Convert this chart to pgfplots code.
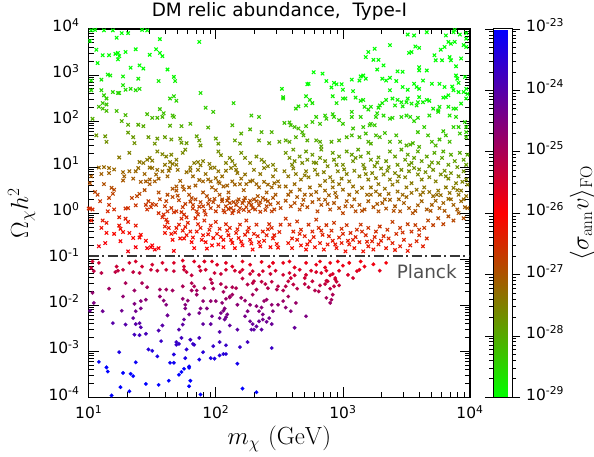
\documentclass[border=0pt]{standalone}
\usepackage[no-math]{fontspec}
\setmainfont{DejaVu Sans}
\usepackage{pgfplots}
\usepackage{pgfplotstable}
\pgfplotsset{compat=1.18}

% columns: lx = log10(m_chi/GeV), ly = log10(Omega h^2)
\pgfplotstableread{
lx ly
1.02 3.97
1.05 3.98
1.12 3.97
1.19 3.97
1.26 3.91
1.31 3.91
1.42 3.98
1.46 3.97
1.01 3.74
1.22 3.81
1.56 3.78
1.87 3.72
1.06 3.55
1.11 3.43
1.16 3.43
1.21 3.46
1.23 3.48
1.24 3.41
1.23 3.34
1.29 3.50
1.37 3.56
1.48 3.44
1.53 3.56
1.56 3.48
1.58 3.41
1.07 3.26
1.33 3.16
1.40 3.21
1.43 3.14
1.62 3.12
1.02 2.88
1.10 2.90
1.15 3.01
1.17 2.99
1.27 2.97
1.39 2.92
1.55 2.87
1.67 2.96
1.68 2.87
1.02 2.67
1.10 2.67
1.19 2.63
1.23 2.61
1.24 2.61
1.27 2.78
1.29 2.68
1.33 2.70
1.37 2.67
1.40 2.70
1.88 2.61
1.12 2.56
1.14 2.49
1.11 2.39
1.14 2.36
1.08 2.31
1.11 2.27
1.14 2.22
1.56 2.26
1.59 2.17
1.64 2.49
1.67 2.54
1.69 2.44
1.92 2.29
1.98 2.20
2.14 2.39
1.03 2.05
1.22 2.22
1.29 2.13
1.46 2.15
1.50 2.07
1.54 2.07
1.58 2.09
1.66 2.12
1.67 2.09
1.26 2.00
1.31 1.92
1.39 1.92
1.43 1.89
1.64 1.90
1.73 1.89
1.80 1.94
2.13 1.91
2.28 2.12
1.06 1.69
1.13 1.67
1.14 1.55
1.31 1.75
1.35 1.65
1.36 1.52
1.47 1.65
1.52 1.51
1.54 1.62
1.60 1.65
1.65 1.60
1.72 1.62
1.73 1.53
1.77 1.52
1.85 1.67
1.87 1.58
1.88 1.47
2.00 1.62
2.02 1.51
1.94 1.86
2.15 1.58
2.19 1.51
2.20 1.73
2.27 1.82
2.34 1.58
2.36 1.76
2.42 1.52
2.44 1.76
2.50 1.55
3.51 3.88
3.56 3.86
3.66 3.93
3.81 3.86
3.87 3.93
3.88 3.98
3.92 3.88
3.97 3.91
3.83 3.72
3.85 3.68
3.88 3.72
3.95 3.65
3.97 3.79
3.97 3.61
3.37 3.65
3.25 3.57
3.20 3.50
3.18 3.39
3.24 3.33
3.28 3.33
3.52 3.48
3.54 3.50
3.57 3.62
3.60 3.59
3.77 3.55
3.80 3.61
3.72 3.43
3.73 3.32
3.78 3.32
3.84 3.39
3.85 3.32
3.93 3.36
3.89 3.19
3.60 3.17
3.60 3.10
3.66 3.10
3.43 3.08
3.47 3.07
3.32 3.21
3.27 3.12
3.16 2.99
3.14 2.97
3.13 2.88
3.18 2.92
2.77 3.06
2.84 3.03
2.87 2.87
2.93 2.83
2.95 2.80
2.99 2.80
2.91 2.73
3.00 2.68
3.07 2.90
3.31 2.92
3.34 2.88
3.37 2.94
3.42 2.87
3.47 2.74
3.51 2.68
3.56 2.81
3.58 2.74
3.60 2.70
3.63 2.88
3.70 2.81
3.76 2.81
3.80 2.74
3.86 2.75
3.89 2.99
3.90 2.92
3.91 2.83
3.96 2.96
3.97 2.70
3.87 2.67
3.91 2.63
3.95 2.63
2.52 2.70
2.53 2.52
2.53 2.49
2.72 2.80
2.73 2.81
2.71 2.54
2.74 2.46
2.76 2.39
2.71 2.34
2.65 2.32
2.63 2.27
2.92 2.54
2.95 2.39
3.00 2.49
3.02 2.49
3.08 2.65
3.10 2.51
3.14 2.44
3.16 2.46
3.17 2.31
3.22 2.31
3.20 2.25
3.28 2.29
3.29 2.34
3.31 2.39
3.34 2.46
3.37 2.67
3.39 2.49
3.41 2.34
3.43 2.46
3.46 2.41
3.47 2.32
3.50 2.41
3.51 2.49
3.54 2.38
3.58 2.34
3.59 2.41
3.60 2.52
3.63 2.41
3.66 2.46
3.68 2.44
3.71 2.27
3.75 2.23
3.76 2.31
3.79 2.51
3.81 2.52
3.83 2.56
3.83 2.31
3.87 2.27
3.89 2.27
3.93 2.38
3.97 2.49
3.98 2.59
2.34 2.09
2.54 1.96
2.58 1.97
2.59 1.91
2.62 1.87
2.65 1.84
2.68 1.76
2.71 1.89
2.76 1.98
2.79 2.09
2.82 1.94
2.86 2.12
2.87 2.05
2.92 2.15
2.93 2.09
2.97 2.02
3.00 1.94
3.07 2.20
3.07 2.09
3.14 2.09
3.21 1.91
3.22 1.94
3.26 2.09
3.27 2.17
3.32 2.12
3.37 2.05
3.39 2.07
3.46 2.09
3.50 2.12
3.53 2.09
3.56 2.00
3.59 2.07
3.68 2.12
3.75 2.20
3.84 2.12
3.89 2.09
3.87 1.87
3.91 1.87
3.96 1.98
3.97 1.87
2.55 1.58
2.58 1.55
2.63 1.65
2.69 1.69
2.72 1.58
2.79 1.58
2.82 1.55
2.83 1.45
2.91 1.55
2.97 1.58
3.03 1.65
3.07 1.69
3.08 1.84
3.13 1.65
3.16 1.87
3.18 1.73
3.20 1.55
3.22 1.51
3.25 1.91
3.26 1.69
3.29 1.65
3.33 1.74
3.37 1.55
3.42 1.69
3.45 1.55
3.50 1.47
3.53 1.49
3.55 1.52
3.59 1.76
3.60 1.44
3.64 1.87
3.67 1.69
3.70 1.55
3.73 1.47
3.76 1.60
3.79 1.78
3.81 1.69
3.84 1.55
3.92 1.73
3.97 1.76
3.97 1.65
1.24 1.21
1.32 1.31
1.40 1.11
1.43 1.09
1.46 1.16
1.48 1.20
1.50 1.14
1.54 1.34
1.58 1.28
1.61 1.23
1.64 1.11
1.65 1.27
1.60 1.05
1.69 1.16
1.69 1.05
1.66 1.07
1.74 1.31
1.76 1.38
1.83 1.09
1.86 1.11
1.90 1.13
1.95 1.07
1.96 0.98
2.02 1.34
2.04 1.26
2.08 1.09
2.11 1.20
2.13 1.13
2.15 1.04
2.20 1.31
2.23 1.20
2.27 1.09
2.32 1.23
2.36 1.16
2.38 1.11
1.08 0.99
1.16 0.98
1.16 0.87
1.10 0.85
1.27 0.89
1.32 0.91
1.37 0.91
1.39 0.98
1.48 0.99
1.50 0.98
1.54 0.94
1.58 0.91
1.63 0.92
1.64 0.98
1.70 0.94
1.77 0.89
1.80 0.92
1.80 0.99
1.88 1.04
1.86 0.94
1.99 0.99
2.02 0.91
2.08 0.92
2.12 0.98
2.16 0.94
2.17 0.87
2.23 0.84
2.30 0.94
2.38 0.98
2.41 1.02
2.45 1.05
2.47 0.94
1.02 0.80
1.01 0.65
1.12 0.63
1.18 0.55
1.20 0.51
1.19 0.42
1.27 0.71
1.34 0.33
1.38 0.37
1.40 0.42
1.41 0.68
1.45 0.69
1.48 0.73
1.52 0.69
1.53 0.84
1.48 0.63
1.66 0.53
1.69 0.49
1.69 0.58
1.74 0.58
1.75 0.51
1.79 0.56
1.84 0.60
1.87 0.72
1.90 0.69
1.94 0.73
1.96 0.69
1.97 0.56
2.00 0.76
2.02 0.68
2.03 0.65
2.06 0.58
2.09 0.60
2.13 0.69
2.15 0.62
2.19 0.63
2.24 0.63
2.27 0.69
2.29 0.71
2.32 0.63
2.34 0.56
2.38 0.68
2.41 0.62
2.44 0.56
2.46 0.65
2.49 0.69
2.50 0.58
1.05 0.46
1.07 0.40
1.09 0.26
1.16 0.33
1.16 0.18
1.01 0.10
1.03 0.08
1.15 0.04
1.20 0.08
1.24 -0.09
1.29 0.10
1.31 0.11
1.37 0.17
1.45 0.18
1.47 0.26
1.46 0.08
1.49 0.13
1.50 0.20
1.53 0.18
1.55 0.00
1.59 -0.03
1.61 0.26
1.62 0.04
1.65 0.11
1.67 0.02
1.69 0.04
1.73 0.02
1.74 0.13
1.75 -0.03
1.77 -0.09
1.79 0.40
1.81 0.33
1.82 0.18
1.82 0.10
1.85 0.04
1.86 -0.03
1.88 0.24
1.90 0.15
1.91 0.05
1.92 -0.03
1.94 0.20
1.95 0.29
1.96 0.11
1.98 0.24
2.00 0.04
2.02 0.15
2.03 0.40
2.05 0.26
2.07 0.02
2.08 0.15
2.10 0.33
2.11 0.22
2.12 0.11
2.13 0.00
2.16 0.18
2.17 0.26
2.19 0.11
2.21 0.22
2.23 0.33
2.24 0.13
2.27 0.27
2.28 0.18
2.29 0.11
2.32 0.26
2.33 0.37
2.34 0.17
2.37 0.33
2.40 0.15
2.41 0.26
2.44 0.04
2.45 0.33
2.47 0.40
2.49 0.22
2.51 0.11
1.02 -0.16
1.11 -0.16
1.10 -0.32
1.14 -0.21
1.14 -0.43
1.20 -0.45
1.24 -0.27
1.25 -0.34
1.29 -0.12
1.31 -0.19
1.27 -0.41
1.32 -0.43
1.37 -0.27
1.35 -0.54
1.40 -0.53
1.41 -0.47
1.45 -0.60
1.49 -0.74
1.52 -0.79
1.58 -0.09
1.61 -0.14
1.60 -0.29
1.63 -0.32
1.65 -0.45
1.66 -0.58
1.69 -0.32
1.71 -0.25
1.73 -0.12
1.74 -0.38
1.77 -0.48
1.78 -0.21
1.80 -0.40
1.81 -0.63
1.82 -0.53
1.83 -0.76
1.84 -0.11
1.86 -0.24
1.88 -0.32
1.90 -0.48
1.91 -0.16
1.92 -0.63
1.93 -0.77
1.95 -0.36
1.96 -0.27
1.98 -0.54
2.00 -0.19
2.01 -0.45
2.02 -0.68
2.03 -0.34
2.06 -0.58
2.06 -0.74
2.08 -0.24
2.10 -0.48
2.11 -0.32
2.13 -0.65
2.15 -0.76
2.16 -0.43
2.18 -0.54
2.19 -0.25
2.21 -0.70
2.23 -0.47
2.24 -0.16
2.26 -0.32
2.27 -0.58
2.29 -0.79
2.30 -0.45
2.32 -0.25
2.34 -0.63
2.35 -0.72
2.37 -0.40
2.40 -0.48
2.42 -0.24
2.43 -0.74
2.44 -0.32
2.45 -0.55
2.48 -0.67
2.50 -0.41
2.51 -0.25
1.00 0.10
1.08 -0.72
1.13 -0.65
1.25 -0.61
1.31 -0.83
1.37 -0.74
1.46 -0.76
1.50 -0.70
1.55 -0.76
1.67 -0.82
1.75 -0.55
1.60 -0.43
2.55 1.31
2.58 1.20
2.61 1.38
2.62 1.13
2.66 1.23
2.68 1.09
2.71 1.34
2.72 1.16
2.76 1.27
2.79 1.09
2.82 1.20
2.83 1.38
2.86 1.13
2.88 1.02
2.92 1.31
2.93 1.16
2.97 1.23
3.00 1.05
3.03 1.34
3.07 1.27
3.08 1.13
3.12 1.38
3.14 1.23
3.16 1.05
3.20 1.31
3.22 1.16
3.25 1.02
3.28 1.21
3.34 1.13
3.37 1.34
3.41 1.23
3.43 1.05
3.46 1.38
3.49 1.16
3.51 1.27
3.54 1.09
3.56 1.20
3.59 1.34
3.62 1.13
3.66 1.23
3.68 1.02
3.72 1.31
3.75 1.09
3.78 1.20
3.79 1.34
3.83 1.05
3.85 1.27
3.88 1.13
3.92 1.31
3.95 1.16
3.97 1.05
3.98 1.27
2.54 0.91
2.57 0.80
2.61 0.97
2.63 0.85
2.67 0.73
2.71 0.91
2.73 0.78
2.78 0.94
2.80 0.84
2.85 0.89
2.90 0.78
2.92 0.69
2.96 0.91
2.99 0.75
3.03 0.85
3.05 0.69
3.09 0.92
3.13 0.80
3.17 0.97
3.20 0.73
3.23 0.87
3.26 0.76
3.28 0.63
3.30 0.97
3.32 0.84
3.35 0.92
3.37 0.73
3.41 0.87
3.43 0.69
3.46 0.94
3.49 0.78
3.52 0.91
3.54 0.65
3.56 0.98
3.59 0.84
3.62 0.73
3.65 0.89
3.68 0.78
3.71 0.94
3.73 0.69
3.77 0.84
3.80 0.92
3.83 0.75
3.85 0.87
3.89 0.65
3.91 0.80
3.95 0.91
3.97 0.73
3.98 0.62
3.94 0.68
2.55 0.58
2.59 0.47
2.62 0.63
2.66 0.51
2.70 0.40
2.74 0.56
2.79 0.46
2.82 0.60
2.86 0.49
2.89 0.39
2.92 0.56
2.94 0.44
2.97 0.63
3.00 0.51
3.05 0.40
3.08 0.58
3.11 0.46
3.15 0.55
3.19 0.40
3.22 0.56
3.26 0.47
3.29 0.40
3.33 0.53
3.36 0.42
3.39 0.62
3.43 0.47
3.47 0.40
3.50 0.56
3.54 0.44
3.58 0.51
3.61 0.40
3.64 0.56
3.68 0.46
3.71 0.37
3.75 0.49
3.77 0.39
3.81 0.56
3.84 0.44
3.87 0.55
3.91 0.40
3.93 0.49
3.97 0.37
3.98 0.11
2.55 0.27
2.59 0.15
2.62 0.22
2.66 0.08
2.69 0.29
2.72 0.13
2.76 0.24
2.80 0.04
2.83 0.18
2.86 0.29
2.90 0.08
2.93 0.22
2.97 0.11
3.00 0.00
3.03 0.26
3.07 0.15
3.10 0.04
3.13 0.18
3.17 0.08
3.20 0.26
3.24 0.13
3.28 0.04
3.31 0.22
3.34 0.10
3.37 0.29
3.41 0.15
3.45 0.04
3.48 0.22
3.52 0.11
3.55 0.00
3.59 0.17
3.62 0.26
3.66 0.08
3.70 0.18
3.73 0.27
3.76 0.11
3.79 0.22
3.83 0.31
3.87 0.18
3.90 0.08
3.93 0.26
3.96 0.13
2.55 -0.12
2.58 -0.25
2.61 -0.40
2.64 -0.18
2.67 -0.36
2.70 -0.50
2.73 -0.25
2.76 -0.40
2.79 -0.14
2.81 -0.32
2.84 -0.47
2.87 -0.26
2.91 -0.38
2.93 -0.21
2.97 -0.53
2.99 -0.34
3.03 -0.26
3.06 -0.43
3.08 -0.58
3.11 -0.36
3.14 -0.25
3.18 -0.48
3.20 -0.32
3.23 -0.61
3.26 -0.40
3.29 -0.29
3.32 -0.50
3.35 -0.36
3.39 -0.19
3.42 -0.45
3.45 -0.32
3.48 -0.58
3.51 -0.24
3.54 -0.40
3.57 -0.26
3.60 -0.48
3.64 -0.32
3.67 -0.16
3.71 -0.26
3.75 -0.11
3.79 -0.24
3.83 -0.07
3.87 -0.16
3.91 0.00
3.95 -0.11
2.57 -0.65
2.60 -0.76
2.64 -0.58
2.67 -0.70
2.71 -0.79
2.74 -0.61
2.78 -0.74
2.82 -0.65
2.85 -0.79
2.88 -0.68
2.92 -0.60
2.95 -0.76
2.99 -0.65
3.02 -0.83
3.05 -0.68
3.09 -0.76
3.13 -0.63
3.16 -0.83
3.20 -0.72
3.24 -0.79
3.28 -0.68
3.34 -0.76
3.39 -0.65
3.45 -0.72
3.51 -0.82
3.58 -0.61
3.63 -0.72
2.05 0.30
2.09 0.27
2.14 0.24
2.18 0.30
2.22 0.27
2.26 0.22
2.30 0.30
2.35 0.24
2.39 0.29
2.43 0.19
2.06 0.06
2.10 0.09
2.14 0.06
2.18 0.03
2.22 0.07
2.26 0.04
2.31 0.08
2.35 0.03
2.39 0.07
2.46 0.08
1.80 0.25
1.84 0.30
1.87 0.14
1.93 0.37
1.99 0.31
1.76 0.20
1.71 0.28
1.66 0.35
1.60 0.15
1.56 0.30
1.62 -0.20
1.68 -0.42
1.72 -0.55
1.76 -0.30
1.85 -0.40
1.89 -0.58
1.94 -0.46
1.97 -0.70
2.04 -0.52
2.09 -0.38
2.12 -0.58
2.17 -0.35
2.20 -0.62
2.25 -0.40
2.28 -0.66
2.33 -0.50
2.38 -0.60
2.41 -0.35
2.46 -0.48
2.49 -0.75
2.60 -0.55
2.66 -0.45
2.72 -0.68
2.77 -0.52
2.83 -0.38
2.89 -0.50
2.94 -0.68
3.00 -0.45
3.04 -0.60
3.10 -0.52
3.15 -0.40
3.19 -0.62
3.25 -0.52
3.30 -0.60
3.36 -0.55
3.41 -0.80
3.47 -0.42
3.53 -0.70
3.60 -0.36
3.66 -0.55
2.57 0.40
2.64 0.35
2.68 0.18
2.75 0.40
2.81 0.30
2.88 0.20
2.95 0.35
3.02 0.15
3.09 0.30
3.15 0.05
3.22 0.40
3.27 0.20
3.33 0.30
3.40 0.05
3.44 0.30
3.50 0.35
3.57 0.05
3.63 0.45
3.69 0.05
3.74 0.40
3.80 0.05
3.85 0.30
3.90 0.50
3.95 0.30
2.60 1.05
2.70 0.82
2.77 1.10
2.86 0.70
2.95 1.05
3.01 0.95
3.10 1.20
3.18 0.85
3.27 1.10
3.36 1.00
3.44 0.80
3.52 1.05
3.60 0.95
3.70 1.10
3.81 0.80
3.90 1.00
1.12 1.00
1.20 0.95
1.28 0.80
1.35 0.75
1.44 0.85
1.55 0.75
1.62 0.80
1.72 0.70
1.82 0.80
1.92 0.85
2.05 0.80
2.20 0.75
2.35 0.85
2.45 0.80
1.44 0.50
1.55 0.45
1.62 0.40
1.70 0.38
1.90 0.45
2.00 0.50
2.10 0.45
2.22 0.50
2.40 0.45
}\crossdata

\pgfplotstableread{
lx ly
1.03 -1.05
1.02 -1.19
1.08 -1.08
1.22 -1.16
1.32 -1.08
1.37 -1.05
1.42 -1.16
1.50 -1.12
1.58 -1.08
1.67 -1.08
1.74 -1.03
1.75 -1.16
1.83 -1.05
1.87 -1.16
1.91 -1.05
1.97 -1.05
2.01 -1.12
2.08 -1.08
2.13 -1.16
2.21 -1.05
2.27 -1.12
2.36 -1.06
2.42 -1.16
2.45 -1.08
2.53 -1.08
2.58 -1.05
2.62 -1.18
2.71 -1.08
2.79 -1.12
2.82 -1.05
2.86 -1.18
2.90 -1.08
2.96 -1.05
3.00 -1.14
3.05 -1.08
3.14 -1.05
3.17 -1.16
3.24 -1.11
3.34 -1.08
1.04 -1.26
1.10 -1.30
1.21 -1.28
1.23 -1.25
1.27 -1.23
1.35 -1.28
1.40 -1.30
1.49 -1.23
1.54 -1.25
1.61 -1.23
1.67 -1.26
1.75 -1.23
1.77 -1.28
1.81 -1.35
1.88 -1.25
1.92 -1.23
1.99 -1.30
2.04 -1.32
2.08 -1.23
2.15 -1.25
2.19 -1.28
2.21 -1.23
2.27 -1.32
2.29 -1.26
2.34 -1.34
2.37 -1.26
2.43 -1.32
2.47 -1.25
2.53 -1.34
2.58 -1.30
2.62 -1.35
2.66 -1.23
2.70 -1.41
2.71 -1.34
2.75 -1.25
2.79 -1.28
2.83 -1.30
2.87 -1.25
2.90 -1.35
2.92 -1.32
2.94 -1.41
2.97 -1.25
3.04 -1.34
3.08 -1.41
3.11 -1.26
3.13 -1.23
3.29 -1.25
1.03 -1.73
1.16 -1.64
1.29 -1.52
1.36 -1.68
1.42 -1.52
1.46 -1.61
1.56 -1.66
1.61 -1.66
1.66 -1.68
1.74 -1.59
1.81 -1.52
1.83 -1.59
1.85 -1.68
1.91 -1.63
1.96 -1.44
1.97 -1.52
1.98 -1.64
2.04 -1.54
2.06 -1.71
2.08 -1.61
2.11 -1.81
2.13 -1.61
2.16 -1.63
2.21 -1.42
2.25 -1.55
2.29 -1.52
2.30 -1.48
2.32 -1.66
2.36 -1.49
2.39 -1.54
2.41 -1.63
2.44 -1.49
2.48 -1.66
2.49 -1.59
2.53 -1.68
2.55 -1.59
2.57 -1.48
2.59 -1.41
2.61 -1.55
2.64 -1.64
2.70 -1.54
2.73 -1.61
2.78 -1.68
2.82 -1.57
2.86 -1.54
2.88 -1.48
2.90 -1.64
2.93 -1.59
2.94 -1.44
2.95 -1.49
2.87 -1.47
2.76 -1.48
2.97 -1.57
1.04 -1.95
1.01 -2.12
1.11 -2.13
1.26 -2.12
1.27 -1.81
1.36 -1.97
1.37 -2.13
1.41 -1.91
1.45 -1.88
1.41 -2.07
1.56 -1.81
1.59 -1.90
1.61 -1.99
1.74 -1.86
1.76 -1.99
1.78 -1.90
1.81 -1.68
1.85 -1.77
1.88 -2.07
1.87 -2.17
1.90 -1.91
1.93 -2.07
1.96 -1.91
2.00 -1.91
2.05 -1.95
2.07 -2.07
2.08 -1.86
2.11 -1.83
2.13 -1.77
2.17 -1.99
2.20 -1.84
2.23 -1.90
2.25 -2.13
2.27 -1.99
2.29 -1.77
2.32 -2.02
2.36 -2.05
2.38 -1.91
2.40 -1.88
2.44 -1.99
2.45 -2.13
2.49 -1.99
2.53 -1.91
2.55 -2.05
2.57 -1.81
2.59 -2.13
2.63 -1.95
2.87 -1.84
2.90 -1.95
2.91 -1.88
2.92 -1.77
2.81 -1.70
1.19 -2.39
1.35 -2.28
1.37 -2.41
1.40 -2.39
1.41 -2.48
1.29 -2.42
1.36 -2.64
1.40 -2.65
1.45 -2.62
1.55 -2.55
1.58 -2.44
1.62 -2.22
1.71 -2.53
1.74 -2.42
1.75 -2.31
1.76 -2.07
1.79 -2.20
1.90 -2.41
1.96 -2.41
1.97 -2.24
2.03 -2.28
2.04 -2.17
2.06 -2.12
2.07 -2.31
2.08 -2.26
2.09 -2.20
2.03 -2.58
2.11 -2.44
2.17 -2.53
2.23 -2.24
2.27 -2.35
2.28 -2.53
2.29 -2.41
2.30 -2.53
2.32 -2.46
2.34 -2.35
2.36 -2.53
2.37 -2.31
2.40 -2.36
2.42 -2.28
2.44 -2.41
2.34 -2.13
2.37 -2.20
2.62 -2.49
2.71 -2.24
1.24 -3.02
1.47 -2.96
1.50 -2.99
1.54 -3.11
1.57 -2.78
1.69 -2.86
1.71 -2.84
1.73 -2.71
1.69 -2.80
1.77 -2.96
1.80 -2.75
1.82 -2.84
1.83 -2.86
1.87 -2.71
1.90 -3.02
1.98 -2.89
2.03 -2.80
2.08 -2.87
2.19 -2.91
2.25 -2.80
2.44 -2.93
1.08 -3.23
1.14 -3.35
1.15 -3.44
1.27 -3.47
1.33 -3.49
1.35 -3.54
1.37 -3.24
1.45 -3.71
1.55 -3.73
1.64 -3.25
1.67 -3.25
1.67 -3.07
1.71 -3.51
1.73 -3.45
1.75 -3.38
1.79 -3.33
1.79 -3.36
1.80 -3.64
1.76 -3.15
1.87 -3.18
1.96 -3.15
1.99 -3.16
2.03 -3.09
2.06 -3.06
2.08 -3.06
2.17 -3.27
1.63 -3.64
1.79 -3.76
1.18 -3.96
1.25 -3.78
1.32 -3.87
1.88 -3.94
2.21 -3.81
2.32 -3.89
}\dotdata

\begin{document}
\begin{tikzpicture}
\useasboundingbox (-88.7bp,-59.7bp) rectangle (505.3bp,397.3bp);
\begin{axis}[
  scale only axis, width=381.3bp, height=368.3bp,
  xmode=log, ymode=log,
  xmin=10, xmax=10000, ymin=1e-4, ymax=1e4,
  xtick={10,100,1000,10000},
  xticklabels={10\textsuperscript{1},10\textsuperscript{2},10\textsuperscript{3},10\textsuperscript{4}},
  minor xtick={20,30,40,50,60,70,80,90,200,300,400,500,600,700,800,900,2000,3000,4000,5000,6000,7000,8000,9000},
  ytick={1e-4,1e-3,1e-2,1e-1,1,10,100,1000,10000},
  yticklabels={10\textsuperscript{-4},10\textsuperscript{-3},10\textsuperscript{-2},10\textsuperscript{-1},10\textsuperscript{0},10\textsuperscript{1},10\textsuperscript{2},10\textsuperscript{3},10\textsuperscript{4}},
  minor ytick={2e-4,3e-4,4e-4,5e-4,6e-4,7e-4,8e-4,9e-4,2e-3,3e-3,4e-3,5e-3,6e-3,7e-3,8e-3,9e-3,0.02,0.03,0.04,0.05,0.06,0.07,0.08,0.09,0.2,0.3,0.4,0.5,0.6,0.7,0.8,0.9,2,3,4,5,6,7,8,9,20,30,40,50,60,70,80,90,200,300,400,500,600,700,800,900,2000,3000,4000,5000,6000,7000,8000,9000},
  xtick pos=both, ytick pos=both,
  xticklabel pos=lower, yticklabel pos=left,
  tick align=inside,
  major tick length=10bp, minor tick length=5.5bp,
  every tick/.style={black, line width=0.8bp},
  axis line style={line width=1.2bp},
  ticklabel style={font=\fontsize{15.5}{18}\selectfont},
  xticklabel style={anchor=base, yshift=-21bp, inner sep=0pt},
  yticklabel style={anchor=mid east, xshift=-9bp, inner sep=0pt},
  colormap={dm}{rgb255(0cm)=(0,255,0) rgb255(3cm)=(255,0,0) rgb255(6cm)=(0,0,255)},
  point meta min=-29, point meta max=-23,
  colorbar,
  colorbar shift/.style={xshift=23.3bp},
  colorbar style={
    at={(parent axis.north east)}, anchor=north west,
    width=18.7bp,
    ytick={-29,-28,-27,-26,-25,-24,-23},
    yticklabels={10\textsuperscript{-29},10\textsuperscript{-28},10\textsuperscript{-27},10\textsuperscript{-26},10\textsuperscript{-25},10\textsuperscript{-24},10\textsuperscript{-23}},
    minor ytick={-28.699,-28.523,-28.398,-28.301,-28.222,-28.155,-28.097,-28.046,
                 -27.699,-27.523,-27.398,-27.301,-27.222,-27.155,-27.097,-27.046,
                 -26.699,-26.523,-26.398,-26.301,-26.222,-26.155,-26.097,-26.046,
                 -25.699,-25.523,-25.398,-25.301,-25.222,-25.155,-25.097,-25.046,
                 -24.699,-24.523,-24.398,-24.301,-24.222,-24.155,-24.097,-24.046,
                 -23.699,-23.523,-23.398,-23.301,-23.222,-23.155,-23.097,-23.046},
    tick align=outside,
    major tick length=8bp, minor tick length=4bp,
    every tick/.style={black, line width=0.8bp},
    axis line style={line width=1bp},
    yticklabel style={font=\fontsize{15.5}{18}\selectfont, anchor=mid west, inner sep=0pt, xshift=6bp},
  },
  clip mode=individual,
]
\addplot[scatter, only marks, mark=x, mark size=2.4bp,
  point meta=explicit,
  mark options={line width=1.1bp},
  scatter/use mapped color={draw=mapped color, fill=mapped color}]
  table[x expr=10^\thisrow{lx}, y expr=10^\thisrow{ly},
        meta expr=-26.7-0.8*\thisrow{ly}-0.2*(\thisrow{lx}-2.5)] {\crossdata};
\addplot[scatter, only marks, mark=*, mark size=1.9bp,
  point meta=explicit,
  mark options={line width=0.1bp},
  scatter/use mapped color={draw=mapped color, fill=mapped color}]
  table[x expr=10^\thisrow{lx}, y expr=10^\thisrow{ly},
        meta expr=-26.9-1.1*\thisrow{ly}-0.2*(\thisrow{lx}-2.5)] {\dotdata};
\addplot[color={rgb,255:red,55;green,55;blue,55}, line width=2bp,
  dash pattern=on 10bp off 3.5bp on 2bp off 3.5bp] coordinates {(10,0.12) (10000,0.12)};
\node[anchor=base, text={rgb,255:red,80;green,80;blue,80}, font=\fontsize{18.5}{22}\selectfont, inner sep=0pt]
  at (axis cs:4570,0.039) {Planck};
\coordinate (cblab) at (rel axis cs:1.294,0.5);
\coordinate (ttl) at (rel axis cs:0.5,1.0326);
\coordinate (xlab) at (rel axis cs:0.5,-0.1295);
\coordinate (ylab) at (rel axis cs:-0.159,0.5);
\end{axis}
\node[anchor=base, inner sep=0pt, font=\fontsize{18.5}{22}\selectfont] at (ttl) {DM relic abundance,~~Type-I};
\node[anchor=base, inner sep=0pt, font=\fontsize{26}{30}\selectfont] at (xlab) {$m_\chi\ (\mathrm{GeV})$};
\node[anchor=base, rotate=90, inner sep=0pt, font=\fontsize{26}{30}\selectfont] at (ylab) {$\Omega_\chi h^2$};
\node[rotate=90, font=\fontsize{23}{27}\selectfont] at (cblab) {$\langle\sigma_{\mathrm{ann}}v\rangle_{\mathrm{FO}}$};
\end{tikzpicture}
\end{document}
